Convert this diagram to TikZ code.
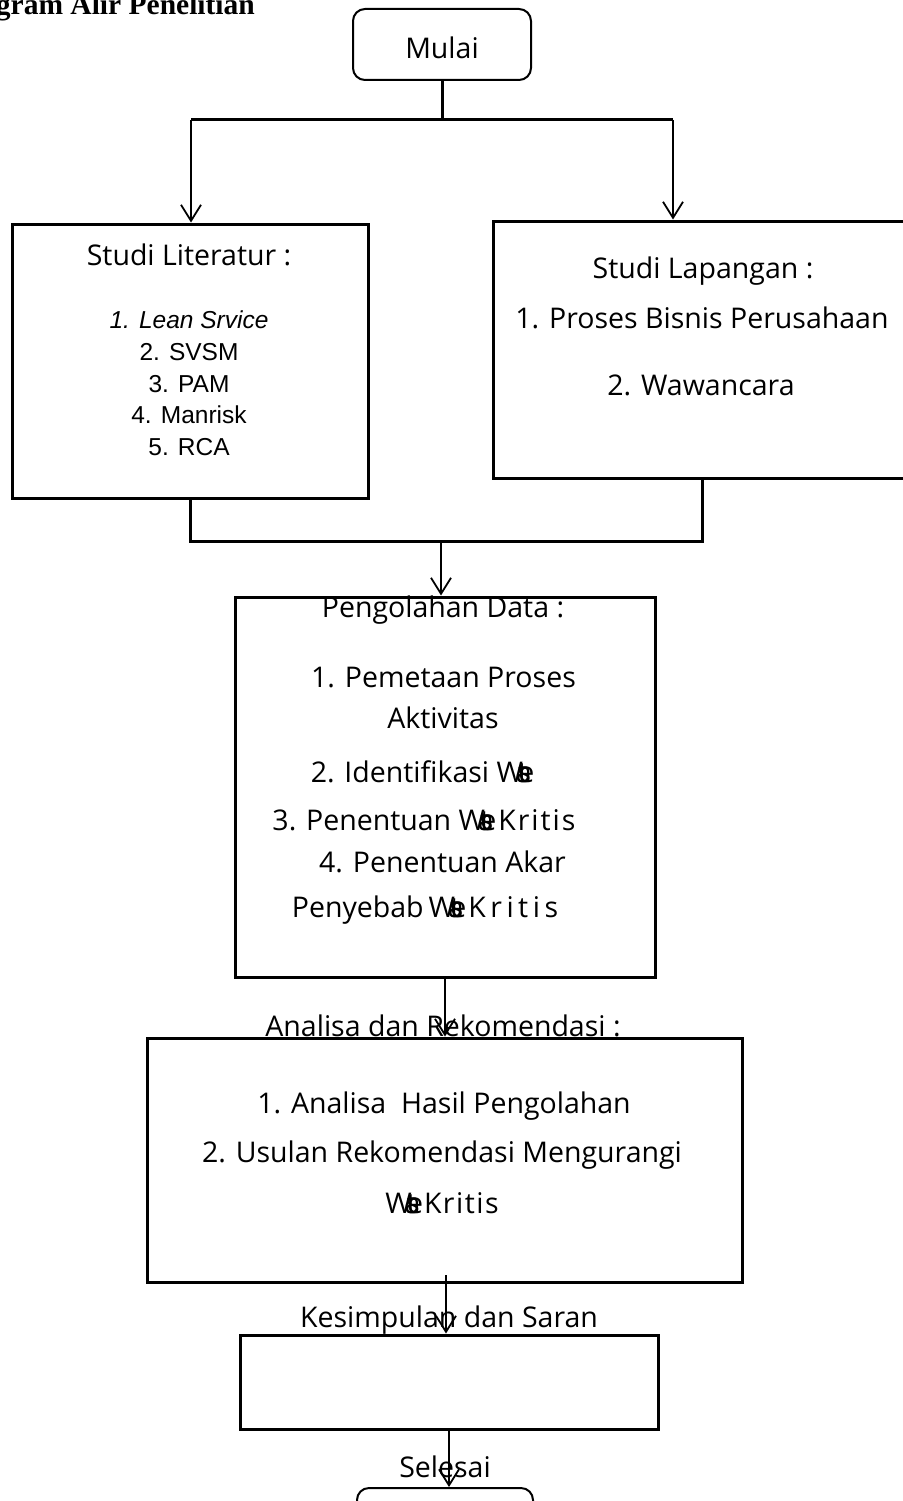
\documentclass[tikz,border=0pt]{standalone}
\usepackage{fontspec}
\setmainfont{Open Sans}
\newfontfamily\arialf{Liberation Sans}
\newfontfamily\timesf{Liberation Serif}
\usetikzlibrary{arrows.meta}
\newcommand{\wst}{W\kern-0.25em a\kern-0.5em s\kern-0.45em t\kern-0.35em e}
\newcommand{\kritis}[1]{K\kern#1 r\kern#1 i\kern#1 t\kern#1 i\kern#1 s}
\begin{document}
\begin{tikzpicture}[x=1pt,y=-1pt,
  box/.style={draw,line width=3pt,rectangle,inner sep=0pt},
  rbox/.style={draw,line width=2pt,rectangle,rounded corners=12pt,inner sep=0pt},
  txt/.style={font=\fontsize{28.5}{34}\selectfont,inner sep=0pt,anchor=base},
  ltxt/.style={font=\arialf\fontsize{24.5}{28}\selectfont,inner sep=0pt,anchor=base},
  conn/.style={line width=3pt},
  arr/.style={line width=1.8pt,-{Straight Barb[length=16pt,width=20pt,line width=1.8pt]}}]
\useasboundingbox (0,0) rectangle (902,1501);
% title
\node[font=\timesf\bfseries\fontsize{29.5}{32}\selectfont,inner sep=0pt,anchor=base east] (title) at (255,15) {gram Alir Penelitian};
% boxes
\node[rbox,minimum width=178pt,minimum height=71pt] (mulai) at (442,44.5) {};
\node[box,minimum width=356pt,minimum height=274pt] (lit) at (190,361) {};
\node[box,minimum width=418pt,minimum height=257pt] (lap) at (702,349.5) {};
\node[box,minimum width=420pt,minimum height=380pt] (olah) at (445,787) {};
\node[box,minimum width=595pt,minimum height=244pt] (anal) at (444.5,1160) {};
\node[box,minimum width=418pt,minimum height=94pt] (kes) at (449,1382) {};
\node[rbox,minimum width=176pt,minimum height=72pt] (sel) at (445,1524) {};
% connectors
\coordinate (j1) at (442,120);
\coordinate (jl) at (191,120);
\coordinate (jr) at (673,120);
\coordinate (j2) at (441,541);
\coordinate (a3) at (446,1275);
\draw[conn] (mulai.south) -- (j1);
\draw[conn] (jl) -- (jr);
\draw[arr] (jl) -- (jl |- lit.north);
\draw[arr] (jr) -- (jr |- lap.north);
\draw[conn] (lit.south) |- (j2) -| (lap.south);
\draw[arr] (j2) -- (j2 |- olah.north);
\draw[arr] (olah.south) -- (olah.south |- anal.north);
\draw[arr] (a3) -- (a3 |- kes.north);
\draw[arr] (kes.south) -- (kes.south |- sel.north);
% texts
\node[txt] (tmulai) at (442,59) {Mulai};
\node[txt] (tlit) at (189,265) {Studi Literatur :};
\node[ltxt] (l1) at (189,328) {\itshape 1. Lean Srvice};
\node[ltxt] (l2) at (189,360) {2. SVSM};
\node[ltxt] (l3) at (189,392) {3. PAM};
\node[ltxt] (l4) at (189,423) {4. Manrisk};
\node[ltxt] (l5) at (189,455) {5. RCA};
\node[txt] (tlap) at (703,278) {Studi Lapangan :};
\node[txt] (p1) at (702,328) {1. Proses Bisnis Perusahaan};
\node[txt] (p2) at (701,395) {2. Wawancara};
\node[txt] (tolah) at (443,617) {Pengolahan Data :};
\node[txt] (o1) at (443.5,687) {1. Pemetaan Proses};
\node[txt] (o1b) at (443,728) {Aktivitas};
\node[txt] (o2) at (422.5,782) {2. Identifikasi \wst};
\node[txt] (o3) at (424,830) {3. Penentuan \wst\kern2pt\kritis{2pt}};
\node[txt] (o4) at (442.5,872) {4. Penentuan Akar};
\node[txt] (o4b) at (425,917) {Penyebab\kern5pt\wst\kern2pt\kritis{4.5pt}};
\node[txt] (tanal) at (443,1036) {Analisa dan Rekomendasi :};
\node[txt] (n1) at (444,1113) {1. Analisa\ \ Hasil Pengolahan};
\node[txt] (n2) at (442,1162) {2. Usulan Rekomendasi Mengurangi};
\node[txt] (n3) at (442,1213) {\wst\kern1pt\kritis{1.5pt}};
\node[txt] (tkes) at (449,1327) {Kesimpulan dan Saran};
\node[txt] (tsel) at (445,1477) {Selesai};
\end{tikzpicture}
\end{document}
